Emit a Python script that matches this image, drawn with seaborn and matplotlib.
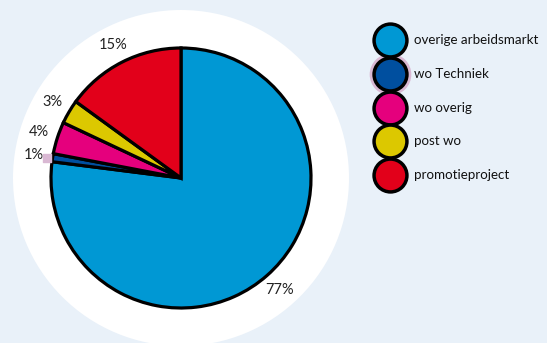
import matplotlib
matplotlib.use("Agg")
import matplotlib.pyplot as plt
from matplotlib.patches import Circle
import seaborn as sns

categories = ["overige arbeidsmarkt", "wo Techniek", "wo overig", "post wo", "promotieproject"]
values = [77, 1, 4, 3, 15]
pct_labels = ["77%", "1%", "4%", "3%", "15%"]
colors = ["#0098d4", "#004f9f", "#e5007d", "#dcc800", "#e2001a"]

sns.set_theme(style="white")
plt.rcParams["font.family"] = ["Lato", "DejaVu Sans"]

BG = "#e9f1f9"
fig = plt.figure(figsize=(5.47, 3.43), dpi=100)
fig.patch.set_facecolor(BG)
ax = fig.add_axes([0, 0, 1, 1])
ax.set_facecolor(BG)

W, H = 547, 343
cx, cy = 181, H - 178
R = 130

ax.add_patch(Circle((cx, cy), 168, facecolor="white", edgecolor="none", zorder=0))

wedges, texts = ax.pie(values, labels=pct_labels, colors=colors, startangle=90,
                       counterclock=False, center=(cx, cy), radius=R,
                       labeldistance=1.15,
                       wedgeprops=dict(edgecolor="black", linewidth=2.3),
                       textprops=dict(fontsize=10.5, color="#222222"))
for w in wedges:
    w.set_zorder(2)
for t in texts:
    t.set_horizontalalignment("center")
    t.set_verticalalignment("center")

# small marker beside the 1% label
ax.scatter([47], [H - 158], marker="s", s=30, color="#d9b8d3", zorder=3)

# legend
lx, ly0, dy = 390, H - 40, 33.8
for i, (cat, col) in enumerate(zip(categories, colors)):
    y = ly0 - i * dy
    if cat == "wo Techniek":
        ax.scatter([lx], [y], s=900, color="#d9b8d3", zorder=3, linewidths=0)
    ax.scatter([lx], [y], s=560, color=col, edgecolor="black", linewidths=2.5, zorder=4)
    ax.text(lx + 24, y, cat, fontsize=9.6, va="center", ha="left", color="#111111")

ax.set_xlim(0, W)
ax.set_ylim(0, H)
ax.set_aspect("equal")
ax.axis("off")

fig.savefig("out.png", dpi=100, facecolor=BG)
